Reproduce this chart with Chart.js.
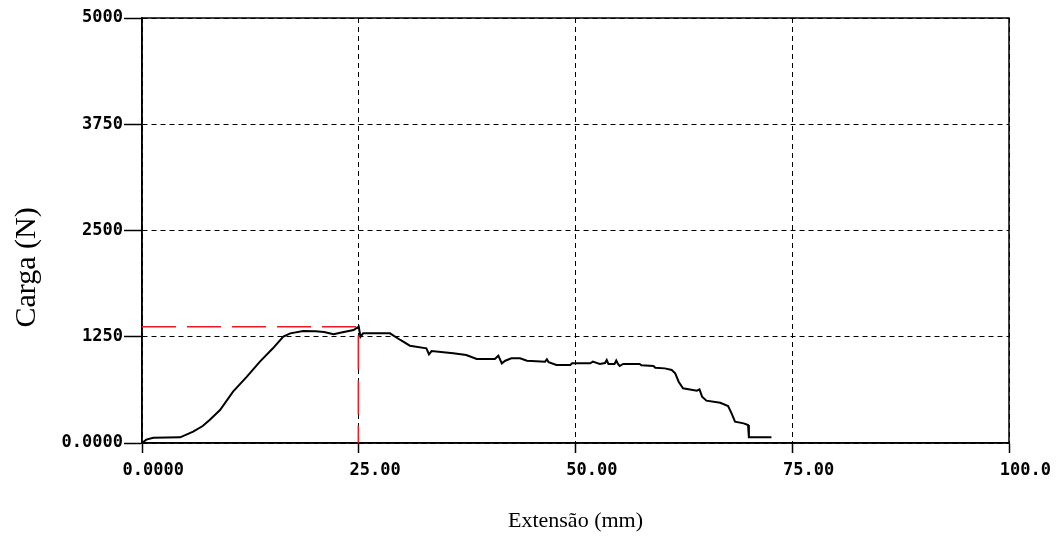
<!DOCTYPE html>
<html>
<head>
<meta charset="utf-8">
<title>Carga x Extensão</title>
<script src="https://cdn.jsdelivr.net/npm/chart.js@4.4.1/dist/chart.umd.min.js"></script>
<style>
    html, body { margin: 0; padding: 0; background: #fff; }
    canvas { display: block; }
</style>
</head>
<body>
<canvas id="cargaChart" width="1059" height="543"></canvas>
<script>
const extensao = [0, 0.5, 1.3, 4.4, 5.9, 7.0, 7.8, 9.0, 10.5, 12.1, 13.6, 15.1, 16.3, 17.1, 18.6, 20.0, 21.0, 22.1, 23.0, 24.4, 25.0,
    25.2, 25.5, 28.6, 29.8, 30.9, 32.8, 33.1, 33.4, 35.9, 37.4, 38.6, 40.7, 41.1, 41.5, 41.9, 42.6, 43.6, 44.4, 46.5, 46.7, 46.9,
    47.8, 49.4, 49.6, 51.7, 52.0, 52.8, 53.4, 53.6, 53.8, 54.5, 54.7, 54.9, 55.1, 55.5, 57.4, 57.6, 59.0, 59.2, 60.3, 61.1,
    61.5, 61.9, 62.4, 64.0, 64.3, 64.6, 65.1, 66.7, 67.6, 68.0, 68.4, 69.4, 69.9, 70.0, 72.6];
const carga = [0, 40, 62, 67, 133, 200, 270, 388, 604, 780, 957, 1114, 1251, 1290, 1318, 1315, 1305, 1279, 1300, 1329, 1368,
    1250, 1290, 1290, 1212, 1145, 1114, 1043, 1082, 1055, 1035, 988, 988, 1027, 937, 968, 996, 996, 968, 957, 985, 950,
    918, 918, 937, 937, 957, 930, 940, 976, 930, 930, 970, 930, 906, 930, 930, 914, 906, 886, 878, 859,
    820, 721, 643, 616, 631, 545, 498, 474, 435, 349, 251, 231, 212, 67, 67];

// Líneas rojas de la carga máxima
const maxX = [0, 24.95, 24.95];
const maxY = [1368, 1368, 0];

// Etiquetas de los ejes
const xTickLabels = ['0.0000', '25.00', '50.00', '75.00', '100.0'];
const yTickLabels = ['0.0000', '1250', '2500', '3750', '5000'];
const yTitle = 'Carga (N)';

const tickFont = { family: 'DejaVu Sans Mono', size: 17, weight: 'bold' };

// Marco sólido del área y título del eje Y (desplazado hacia abajo como en el original)
const framePlugin = {
    id: 'frame',
    beforeDatasetsDraw(chart) {
        const { ctx, chartArea: a } = chart;
        ctx.save();
        ctx.strokeStyle = '#000';
        ctx.lineWidth = 1.5;
        ctx.setLineDash([]);
        ctx.strokeRect(a.left, a.top, a.right - a.left, a.bottom - a.top);
        ctx.restore();
    },
    afterDraw(chart) {
        const ctx = chart.ctx;
        const a = chart.chartArea;
        ctx.save();
        ctx.translate(27, (a.top + a.bottom) / 2 + 37);
        ctx.rotate(-Math.PI / 2);
        ctx.fillStyle = '#000';
        ctx.font = '30px "Liberation Serif"';
        ctx.textAlign = 'center';
        ctx.textBaseline = 'middle';
        ctx.fillText(yTitle, 0, 0);
        ctx.restore();
    }
};

const ctx = document.getElementById('cargaChart').getContext('2d');
new Chart(ctx, {
    type: 'line',
    data: {
        datasets: [
            {
                label: 'Carga',
                data: extensao.map((x, i) => ({ x: x, y: carga[i] })),
                borderColor: '#000',
                borderWidth: 2,
                pointRadius: 0,
                tension: 0,
                fill: false
            },
            {
                label: 'Máximo',
                data: maxX.map((x, i) => ({ x: x, y: maxY[i] })),
                borderColor: 'rgb(237, 28, 36)',
                borderWidth: 1.5,
                borderDash: [34, 11],
                pointRadius: 0,
                tension: 0,
                fill: false
            }
        ]
    },
    plugins: [framePlugin],
    options: {
        responsive: false,
        animation: false,
        devicePixelRatio: 1,
        layout: { padding: { left: 0, right: 50, top: 18, bottom: 0 } },
        plugins: {
            legend: { display: false },
            tooltip: { enabled: false }
        },
        scales: {
            x: {
                type: 'linear',
                min: 0,
                max: 100,
                afterFit: s => { s.height = 100; },
                ticks: {
                    stepSize: 25,
                    color: '#000',
                    font: tickFont,
                    align: 'end',
                    labelOffset: 42,
                    padding: 7,
                    maxRotation: 0,
                    callback: (v, i) => xTickLabels[i]
                },
                grid: {
                    color: '#000',
                    lineWidth: 1,
                    tickLength: 10,
                    tickColor: '#000',
                    tickWidth: 1.5,
                    tickBorderDash: []
                },
                border: { display: true, color: '#000', width: 1.5, dash: [5, 4] },
                title: {
                    display: true,
                    text: 'Extensão (mm)',
                    color: '#000',
                    font: { family: 'Liberation Serif', size: 22 },
                    padding: { top: 0, bottom: 9 }
                }
            },
            y: {
                min: 0,
                max: 5000,
                afterFit: s => { s.width = 142; },
                ticks: {
                    stepSize: 1250,
                    color: '#000',
                    font: tickFont,
                    padding: 1,
                    callback: (v, i) => yTickLabels[i]
                },
                grid: {
                    color: '#000',
                    lineWidth: 1,
                    tickLength: 18,
                    tickColor: '#000',
                    tickWidth: 1.5,
                    tickBorderDash: []
                },
                border: { display: true, color: '#000', width: 1.5, dash: [5, 4] }
            }
        }
    }
});
</script>
</body>
</html>
